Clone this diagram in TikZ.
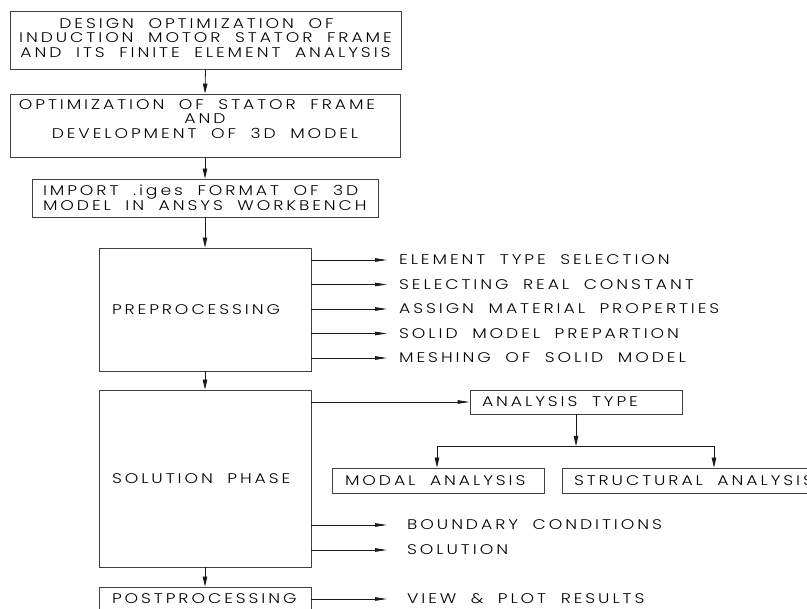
\documentclass[tikz,border=0pt]{standalone}
\usepackage{fontspec}
\setmainfont{Poppins}[UprightFont=* Light, FakeStretch=1.23, LetterSpace=21, WordSpace=1.9]
\usetikzlibrary{arrows.meta}
\newcommand{\liftlines}[2]{\raisebox{#1}[\height][\depth]{\begin{tabular}{@{}c@{}}#2\end{tabular}}}
\begin{document}
\begin{tikzpicture}[x=1pt,y=-1pt,
  font=\fontsize{14}{14.8}\selectfont,
  box/.style={draw=black!75, line width=0.8pt, inner ysep=0pt},
  cbox/.style={box, inner xsep=0pt},
  lbox/.style={box, align=left, inner xsep=#1, execute at begin node={\spaceskip=0pt\xspaceskip=0pt}},
  lbl/.style={anchor=west, inner sep=0pt},
  darr/.style={draw=black!90, line width=0.8pt, -{Triangle[length=10pt,width=4.5pt]}},
  harr/.style={draw=black!90, line width=0.8pt, -{Triangle[length=12pt,width=3.5pt]}},
  ln/.style={draw=black!90, line width=0.8pt}]
\useasboundingbox (0,0) rectangle (807,609);
\clip (0,0) rectangle (807,609);

\node[cbox, minimum width=391pt, minimum height=58pt] (b1) at (205.5,40)
  {\liftlines{0pt}{DESIGN OPTIMIZATION OF\hspace*{18pt}\\INDUCTION MOTOR STATOR FRAME\\AND ITS FINITE ELEMENT ANALYSIS}};
\node[cbox, minimum width=390pt, minimum height=63pt] (b2) at (205,125.5)
  {\liftlines{4.5pt}{OPTIMIZATION OF STATOR FRAME\hspace*{16pt}\\AND\\DEVELOPMENT OF 3D MODEL}};
\node[lbox=11pt, text width=324pt, minimum height=38pt] (b3) at (205,198)
  {\mbox{IMPORT .iges FORMAT OF 3D}\\\mbox{MODEL IN ANSYS WORKBENCH}};
\node[lbox=13pt, text width=186pt, minimum height=123pt] (pre) at (205,309.5) {PREPROCESSING};
\node[lbox=13pt, text width=186pt, minimum height=177pt] (sol) at (205,478.5) {\mbox{SOLUTION PHASE}};
\node[lbox=13pt, text width=186pt, minimum height=24pt] (post) at (205,599) {POSTPROCESSING};
\node[lbox=12pt, text width=188pt, minimum height=24pt] (at) at (576,402) {ANALYSIS TYPE};
\node[lbox=13pt, text width=186pt, minimum height=25pt] (modal) at (438,480.5) {\mbox{MODAL ANALYSIS}};
\node[lbox=12pt, text width=244pt, minimum height=25pt] (struct) at (696,480.5) {\mbox{STRUCTURAL ANALYSIS}};

% vertical flow
\draw[darr] (b1.south) -- (b2.north);
\draw[darr] (b2.south) -- (b3.north);
\draw[darr] (b3.south) -- (pre.north);
\draw[darr] (pre.south) -- (sol.north);
\draw[darr] (sol.south) -- (post.north);

% preprocessing items
\foreach \y/\t [count=\i] in {260/ELEMENT TYPE SELECTION, 284.5/SELECTING REAL CONSTANT, 309/ASSIGN MATERIAL PROPERTIES, 333.5/SOLID MODEL PREPARTION, 358/MESHING OF SOLID MODEL}{
  \coordinate (ps\i) at (pre.east |- 0,\y);
  \coordinate (pe\i) at (387,\y);
  \node[lbl] (pl\i) at (399,\y) {\t};
  \draw[harr] (ps\i) -- (pe\i);
}

% solution items
\coordinate (s0) at (sol.east |- at.west);
\draw[harr] (s0) -- (at.west);
\coordinate (j) at (576,446);
\coordinate (jl) at (437,446);
\coordinate (jr) at (714,446);
\draw[darr] (at.south) -- (j);
\draw[ln] (jl) -- (jr);
\draw[darr] (jl) -- (jl |- modal.north);
\draw[darr] (jr) -- (jr |- struct.north);

\coordinate (s1) at (sol.east |- 0,525);
\coordinate (e1) at (387,525);
\node[lbl] (l1) at (407,525) {BOUNDARY CONDITIONS};
\draw[harr] (s1) -- (e1);
\coordinate (s2) at (sol.east |- 0,550);
\coordinate (e2) at (387,550);
\node[lbl] (l2) at (407,550) {SOLUTION};
\draw[harr] (s2) -- (e2);

\coordinate (s3) at (post.east |- 0,599);
\coordinate (e3) at (387,599);
\node[lbl] (l3) at (407,599) {VIEW \& PLOT RESULTS};
\draw[harr] (s3) -- (e3);
\end{tikzpicture}
\end{document}
